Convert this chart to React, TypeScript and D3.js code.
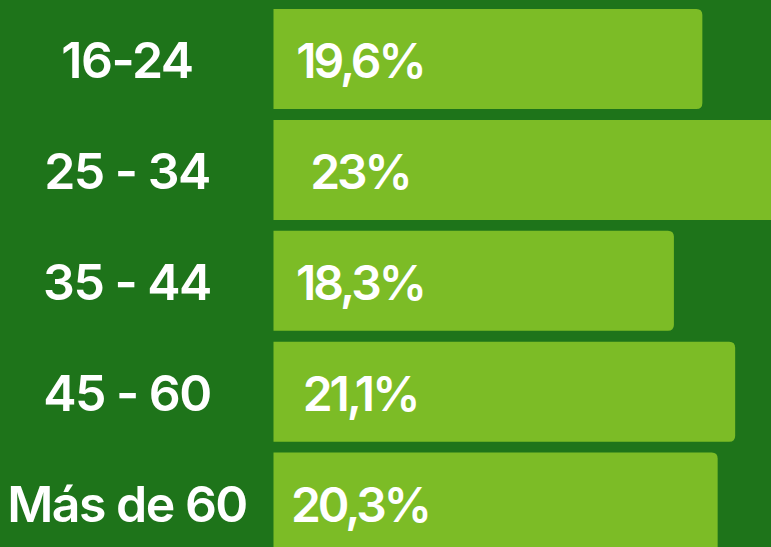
import React, { useEffect, useRef } from "react";
import * as d3 from "d3";

const categories = ["16-24", "25 - 34", "35 - 44", "45 - 60", "Más de 60"];
const values = [19.6, 23, 18.3, 21.1, 20.3];
const valueLabels = ["19,6%", "23%", "18,3%", "21,1%", "20,3%"];

function App() {
  const ref = useRef<SVGSVGElement | null>(null);

  useEffect(() => {
    const width = 771;
    const height = 547;
    const barLeft = 273.5;
    const pxPerUnit = 21.88;

    const svg = d3.select(ref.current);
    svg.selectAll("*").remove();

    svg.append("rect")
      .attr("width", width)
      .attr("height", height)
      .attr("fill", "#1e741a");

    const y = d3.scaleBand<string>()
      .domain(categories)
      .range([9, 552.6])
      .paddingInner(0.0983)
      .paddingOuter(0);

    const x = d3.scaleLinear([0, 23], [barLeft, barLeft + 23 * pxPerUnit]);

    const r = 6;
    // bars: square left edge, rounded right corners
    svg.append("g")
      .selectAll("path")
      .data(values)
      .join("path")
      .attr("fill", "#7cbc26")
      .attr("d", (d, i) => {
        const x0 = x(0), x1 = x(d);
        const y0 = y(categories[i])!, y1 = y0 + y.bandwidth();
        return `M${x0},${y0}H${x1 - r}Q${x1},${y0} ${x1},${y0 + r}V${y1 - r}Q${x1},${y1} ${x1 - r},${y1}H${x0}Z`;
      });

    const font = "Inter, 'Open Sans', sans-serif";

    svg.append("g")
      .selectAll("text")
      .data(categories)
      .join("text")
      .attr("x", 127)
      .attr("y", d => y(d)! + y.bandwidth() / 2 + 19)
      .attr("text-anchor", "middle")
      .attr("fill", "#ffffff")
      .attr("font-family", font)
      .attr("font-weight", 600)
      .attr("font-size", 50)
      .attr("letter-spacing", -1.5)
      .text(d => d);

    svg.append("g")
      .selectAll("text")
      .data(valueLabels)
      .join("text")
      .attr("x", 360)
      .attr("y", (d, i) => y(categories[i])! + y.bandwidth() / 2 + 19)
      .attr("text-anchor", "middle")
      .attr("fill", "#ffffff")
      .attr("font-family", font)
      .attr("font-weight", 600)
      .attr("font-size", 48)
      .attr("letter-spacing", -3)
      .text(d => d);
  }, []);

  return (
    <svg
      ref={ref}
      width={771}
      height={547}
      style={{ position: "absolute", left: 0, top: 0 }}
    />
  );
}

export default App;
